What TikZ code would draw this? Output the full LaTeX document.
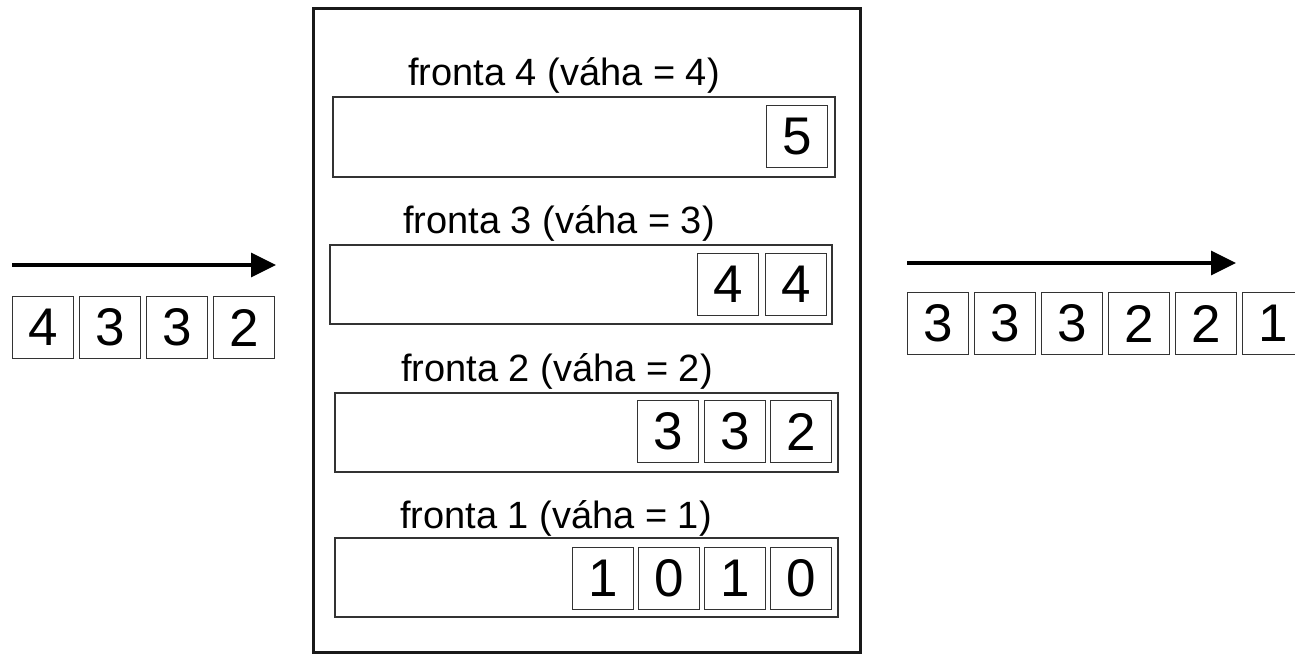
\documentclass[tikz,border=0pt]{standalone}
\usepackage{fontspec}
\setmainfont{Liberation Sans}
\usetikzlibrary{arrows.meta}
\begin{document}
\begin{tikzpicture}[x=1pt,y=-1pt,
  itembox/.style={draw=black!80,line width=1.4pt,rectangle,minimum width=61pt,minimum height=62pt,inner sep=0pt,anchor=north west,font=\fontsize{53}{53}\selectfont},
  queuebox/.style={draw=black!80,line width=1.5pt},
  outerbox/.style={draw=black!90,line width=3pt},
  qtitle/.style={anchor=base,inner sep=0pt,font=\fontsize{38}{40}\selectfont},
  flow/.style={line width=3.5pt,-{Triangle[length=25pt,width=24pt]}}]
\useasboundingbox (0,0) rectangle (1295,654);
% outer box
\draw[outerbox] (313,8) rectangle (860,652);
% queue boxes
\draw[queuebox] (333,97) rectangle (835,177);
\draw[queuebox] (330,245) rectangle (832,324);
\draw[queuebox] (335,393) rectangle (838,472);
\draw[queuebox] (335,538) rectangle (838,617);
% titles
\node[qtitle] (t4) at (564,85) {fronta 4 (váha = 4)};
\node[qtitle] (t3) at (559,233) {fronta 3 (váha = 3)};
\node[qtitle] (t2) at (557,381) {fronta 2 (váha = 2)};
\node[qtitle] (t1) at (556,528) {fronta 1 (váha = 1)};
% queue 4
\node[itembox] (q4a) at (766,105) {5};
% queue 3
\node[itembox] (q3a) at (697,253) {4};
\node[itembox] (q3b) at (765,253) {4};
% queue 2
\node[itembox] (q2a) at (637,400) {3};
\node[itembox] (q2b) at (704,400) {3};
\node[itembox] (q2c) at (770,400) {2};
% queue 1
\node[itembox] (q1a) at (572,547) {1};
\node[itembox] (q1b) at (638,547) {0};
\node[itembox] (q1c) at (704,547) {1};
\node[itembox] (q1d) at (770,547) {0};
% input
\node[itembox] (in1) at (12,296) {4};
\node[itembox] (in2) at (79,296) {3};
\node[itembox] (in3) at (146,296) {3};
\node[itembox] (in4) at (213,296) {2};
\coordinate (ina) at (12,265);
\coordinate (inb) at (276,265);
\draw[flow] (ina) -- (inb);
% output
\node[itembox] (o1) at (907,292) {3};
\node[itembox] (o2) at (974,292) {3};
\node[itembox] (o3) at (1041,292) {3};
\node[itembox] (o4) at (1108,292) {2};
\node[itembox] (o5) at (1175,292) {2};
\node[itembox] (o6) at (1242,292) {1};
\coordinate (outa) at (907,263);
\coordinate (outb) at (1236,263);
\draw[flow] (outa) -- (outb);
\end{tikzpicture}
\end{document}
